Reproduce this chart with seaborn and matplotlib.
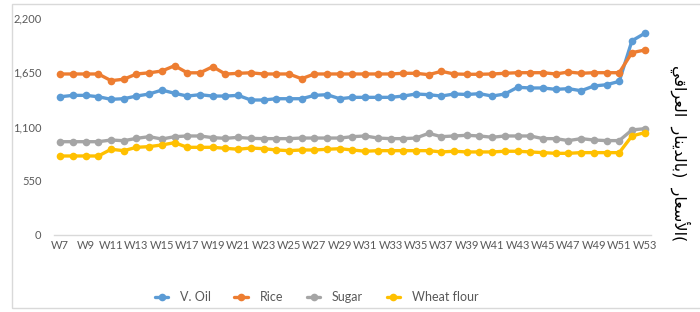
import numpy as np
import pandas as pd
import seaborn as sns
import matplotlib.pyplot as plt
from matplotlib.ticker import FuncFormatter
from matplotlib.patches import Rectangle

weeks = ["W%d" % w for w in range(7, 54)]

v_oil = [1402, 1416, 1416, 1402, 1376, 1382, 1409, 1430, 1470, 1437, 1409, 1423, 1409, 1409,
         1416, 1369, 1369, 1382, 1382, 1382, 1416, 1423, 1382, 1396, 1396, 1396, 1396, 1409,
         1430, 1423, 1409, 1430, 1425, 1433, 1409, 1430, 1498, 1491, 1491, 1477, 1484, 1463,
         1511, 1524, 1558, 1970, 2045]
rice = [1633, 1633, 1633, 1633, 1565, 1580, 1633, 1645, 1663, 1717, 1645, 1645, 1707, 1632,
        1640, 1645, 1633, 1633, 1633, 1585, 1633, 1633, 1633, 1633, 1633, 1633, 1633, 1640,
        1640, 1626, 1660, 1633, 1630, 1630, 1633, 1640, 1646, 1646, 1646, 1633, 1653, 1640,
        1646, 1646, 1646, 1849, 1876]
sugar = [946, 946, 946, 946, 963, 956, 980, 997, 973, 997, 1004, 1004, 987, 980,
         990, 980, 977, 977, 977, 983, 983, 983, 983, 997, 1004, 983, 977, 977,
         983, 1031, 997, 1004, 1011, 1004, 991, 1004, 1004, 1004, 977, 977, 957, 977,
         963, 957, 957, 1065, 1078]
wheat_flour = [801, 801, 801, 801, 869, 855, 889, 896, 913, 936, 889, 889, 889, 879,
               869, 882, 875, 862, 855, 862, 862, 869, 875, 862, 849, 855, 855, 855,
               855, 855, 842, 849, 842, 842, 842, 849, 849, 842, 835, 828, 828, 835,
               835, 835, 835, 1004, 1038]

series = ["V. Oil", "Rice", "Sugar", "Wheat flour"]
colors = ["#5B9BD5", "#ED7D31", "#A5A5A5", "#FFC000"]

df = pd.DataFrame({"week": weeks, "V. Oil": v_oil, "Rice": rice,
                   "Sugar": sugar, "Wheat flour": wheat_flour})
df["idx"] = np.arange(len(df))
long = df.melt(id_vars=["week", "idx"], value_vars=series, var_name="item", value_name="price")

sns.set_style("white")
plt.rcParams["font.family"] = ["Lato", "DejaVu Sans"]

fig = plt.figure(figsize=(7, 3.12), dpi=100)
ax = fig.add_axes([0.077, 0.247, 0.853, 0.695])

for name, col in zip(series, colors):
    sns.lineplot(data=long[long["item"] == name], x="idx", y="price", ax=ax,
                 color=col, linewidth=2.4, marker="o", markersize=5.5,
                 markeredgewidth=0, label=name)

ax.set_xlim(-0.5, len(weeks) - 0.5)
ax.set_ylim(0, 2200)
ax.set_yticks([0, 550, 1100, 1650, 2200])
ax.yaxis.set_major_formatter(FuncFormatter(lambda v, p: "{:,.0f}".format(v)))
ax.set_xticks(df["idx"][::2])
ax.set_xticklabels(df["week"][::2])
ax.tick_params(axis="both", colors="#595959", labelsize=8, length=0, pad=4)
ax.tick_params(axis="y", pad=9)
ax.set_xlabel("")
ax.set_ylabel("")
for s in ["top", "right", "left"]:
    ax.spines[s].set_visible(False)
ax.spines["bottom"].set_color("#D9D9D9")
ax.spines["bottom"].set_linewidth(1)

# Arabic label, written in visual order with presentation forms
w1 = "\uFEF2\uFED7\uFE8D\uFEAE\uFECC\uFEDF\uFE8D"
w2 = "\uFEAD\uFE8E\uFEE8\uFEF3\uFEAA\uFEDF\uFE8E\uFE91"
w3 = "\uFEAD\uFE8E\uFECC\uFEB3\uFEF7\uFE8D"
ar_label = w1 + "  " + w2 + ")" + "  " + w3 + "("
fig.text(0.972, 0.51, ar_label, rotation=270, ha="center", va="center",
         fontsize=11.5, color="black", family=["DejaVu Sans"])

ax.get_legend().remove()
handles, labels = ax.get_legend_handles_labels()
fig.legend(handles, labels, loc="center", bbox_to_anchor=(0.452, 0.048), ncol=4,
           frameon=False, fontsize=9, handlelength=1.1, handletextpad=0.9,
           columnspacing=1.9, labelcolor="#595959")

fig.patches.append(Rectangle((12 / 700, 4 / 312), 1.0, 1 - 8 / 312, transform=fig.transFigure,
                             fill=False, edgecolor="#D9D9D9", linewidth=1))

plt.savefig("out.png", dpi=100)
